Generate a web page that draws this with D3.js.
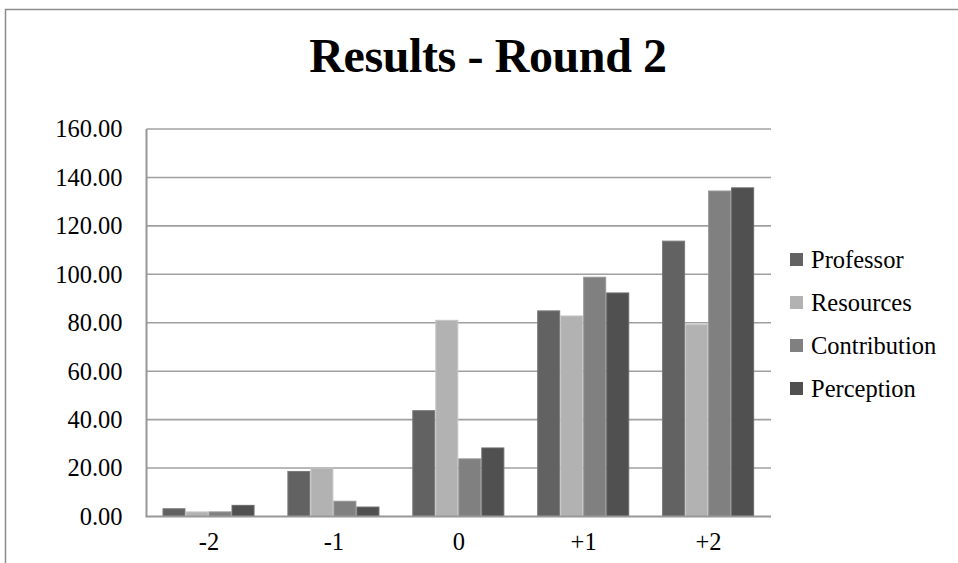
<!DOCTYPE html>
<html>
<head>
<meta charset="utf-8">
<script src="https://cdn.jsdelivr.net/npm/d3@7"></script>
<style>
  html, body { margin: 0; padding: 0; background: #fff; }
  svg { display: block; }
  text { font-family: "Liberation Serif", "Times New Roman", serif; fill: #000; }
</style>
</head>
<body>
<svg id="chart" width="958" height="563"></svg>
<script>
// Ratings tallied per score level, round 2
const categories = ["-2", "-1", "0", "+1", "+2"];
const seriesNames = ["Professor", "Resources", "Contribution", "Perception"];
const professor    = [3.2, 18.6, 43.7, 84.9, 113.7];
const resources    = [1.9, 20.0, 81.0, 82.8, 79.2];
const contribution = [1.9, 6.3, 23.8, 98.8, 134.4];
const perception   = [4.6, 3.9, 28.3, 92.3, 135.7];
const yTicks = [0, 20, 40, 60, 80, 100, 120, 140, 160];

const seriesValues = [professor, resources, contribution, perception];
const colors = ["#626262", "#b2b2b2", "#808080", "#505050"];
const edges  = ["#7a7a7a", "#c6c6c6", "#979797", "#6a6a6a"];

const svg = d3.select("#chart");

// chart frame
svg.append("path")
  .attr("d", "M5.5,563 L5.5,9.5 L958,9.5")
  .attr("fill", "none").attr("stroke", "#8c8c8c").attr("stroke-width", 1.5);

// title
svg.append("text")
  .attr("x", 488).attr("y", 72)
  .attr("text-anchor", "middle")
  .attr("font-size", 48).attr("font-weight", "bold")
  .attr("letter-spacing", -0.4)
  .text("Results - Round 2");

const plot = { left: 146.5, right: 771, top: 129, bottom: 516.5 };

const x0 = d3.scaleBand().domain(categories).range([plot.left, plot.right]).padding(0);
const x1 = d3.scaleBand().domain(seriesNames)
  .range([x0.bandwidth() * 0.128, x0.bandwidth() * 0.865]).padding(0);
const y = d3.scaleLinear().domain([0, 160]).range([plot.bottom, plot.top]);

// horizontal gridlines
svg.append("g")
  .selectAll("line").data(yTicks.filter(d => d > 0)).join("line")
  .attr("x1", plot.left).attr("x2", plot.right)
  .attr("y1", d => y(d)).attr("y2", d => y(d))
  .attr("stroke", "#a0a0a0").attr("stroke-width", 1.6);

// y axis labels
const yAxis = d3.axisLeft(y).tickValues(yTicks).tickFormat(d3.format(".2f")).tickSize(0).tickPadding(24);
const gy = svg.append("g").attr("transform", `translate(${plot.left},0)`).call(yAxis);
gy.select(".domain").remove();
gy.selectAll("text")
  .attr("font-family", "Liberation Serif, Times New Roman, serif")
  .attr("font-size", 24.5).attr("fill", "#000");

// bars
const groups = svg.append("g").selectAll("g").data(categories).join("g")
  .attr("transform", d => `translate(${x0(d)},0)`);
groups.selectAll("rect")
  .data((c, ci) => seriesNames.map((s, si) => ({ s, si, v: seriesValues[si][ci] })))
  .join("rect")
  .attr("x", d => x1(d.s) + 0.5)
  .attr("width", x1.bandwidth() - 1)
  .attr("y", d => y(d.v))
  .attr("height", d => y(0) - y(d.v))
  .attr("fill", d => colors[d.si])
  .attr("stroke", d => edges[d.si]).attr("stroke-width", 1);

// axis lines
svg.append("line")
  .attr("x1", plot.left).attr("x2", plot.left)
  .attr("y1", plot.top).attr("y2", plot.bottom)
  .attr("stroke", "#989898").attr("stroke-width", 2);
svg.append("line")
  .attr("x1", plot.left - 1).attr("x2", plot.right)
  .attr("y1", plot.bottom).attr("y2", plot.bottom)
  .attr("stroke", "#989898").attr("stroke-width", 2);

// x axis labels
const xAxis = d3.axisBottom(x0).tickSize(0).tickPadding(16);
const gx = svg.append("g").attr("transform", `translate(0,${plot.bottom})`).call(xAxis);
gx.select(".domain").remove();
gx.selectAll("text")
  .attr("font-family", "Liberation Serif, Times New Roman, serif")
  .attr("font-size", 24.5).attr("fill", "#000");

// legend
const legend = svg.append("g").selectAll("g").data(seriesNames).join("g")
  .attr("transform", (d, i) => `translate(790,${259 + i * 43})`);
legend.append("rect")
  .attr("x", 0).attr("y", -6).attr("width", 13).attr("height", 13)
  .attr("fill", (d, i) => colors[i]);
legend.append("text")
  .attr("x", 21).attr("y", 0).attr("dy", "0.35em")
  .attr("font-size", 24.5)
  .text(d => d);
</script>
</body>
</html>
